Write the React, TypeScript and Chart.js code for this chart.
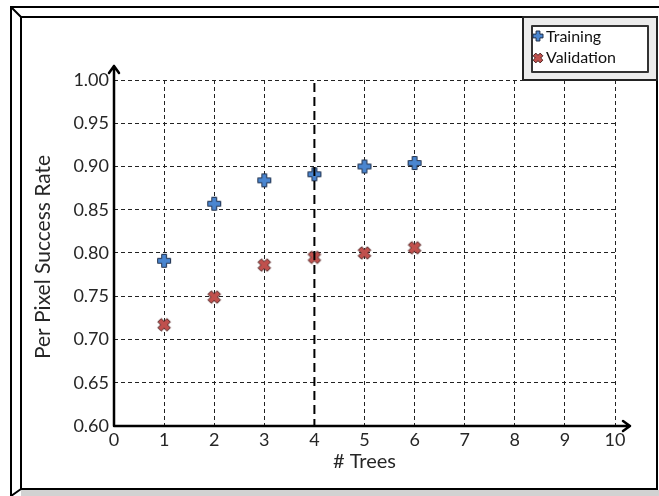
import React, { useEffect, useRef } from "react";
import { Chart, registerables } from "chart.js";

Chart.register(...registerables);

const treeCounts = [1, 2, 3, 4, 5, 6];
const trainingRate = [0.791, 0.857, 0.884, 0.891, 0.9, 0.904];
const validationRate = [0.717, 0.749, 0.786, 0.795, 0.8, 0.806];
const xTickValues = [0, 1, 2, 3, 4, 5, 6, 7, 8, 9, 10];
const yTickLabels = ["0.60", "0.65", "0.70", "0.75", "0.80", "0.85", "0.90", "0.95", "1.00"];
const chosenTrees = 4;
const seriesNames = ["Training", "Validation"];

const FONT = "Lato, 'Open Sans', sans-serif";

function makeMarker(kind: "plus" | "cross", fill: string, stroke: string, size: number, L: number, t: number) {
  const c = document.createElement("canvas");
  c.width = size;
  c.height = size;
  const ctx = c.getContext("2d")!;
  const m = size / 2;
  const pts = [
    [-t, -L], [t, -L], [t, -t], [L, -t], [L, t], [t, t],
    [t, L], [-t, L], [-t, t], [-L, t], [-L, -t], [-t, -t],
  ];
  const ang = kind === "cross" ? Math.PI / 4 : 0;
  ctx.beginPath();
  pts.forEach(([x, y], i) => {
    const rx = x * Math.cos(ang) - y * Math.sin(ang) + m;
    const ry = x * Math.sin(ang) + y * Math.cos(ang) + m;
    if (i === 0) ctx.moveTo(rx, ry);
    else ctx.lineTo(rx, ry);
  });
  ctx.closePath();
  ctx.fillStyle = fill;
  ctx.fill();
  ctx.lineWidth = 1;
  ctx.strokeStyle = stroke;
  ctx.stroke();
  return c;
}

export default function App() {
  const ref = useRef<HTMLCanvasElement | null>(null);

  useEffect(() => {
    const canvas = ref.current!;
    const plusImg = makeMarker("plus", "#4a86d0", "#1f2f4a", 16, 6.5, 2.4);
    const crossImg = makeMarker("cross", "#c0504d", "#4a2020", 16, 6.5, 2.4);
    const plusSmall = makeMarker("plus", "#4a86d0", "#1f2f4a", 12, 5, 1.9);
    const crossSmall = makeMarker("cross", "#c0504d", "#4a2020", 12, 5, 1.9);

    const framePlugin = {
      id: "frame",
      beforeDraw(chart: any) {
        const ctx = chart.ctx;
        ctx.save();
        ctx.fillStyle = "#ffffff";
        ctx.fillRect(0, 0, chart.width, chart.height);
        ctx.fillStyle = "#d2d2d2";
        ctx.fillRect(21, 490, chart.width - 21, 6);
        ctx.strokeStyle = "#000";
        ctx.lineWidth = 2;
        ctx.beginPath();
        ctx.moveTo(659, 7);
        ctx.lineTo(11, 7);
        ctx.lineTo(11, 496);
        ctx.stroke();
        ctx.beginPath();
        ctx.rect(21, 17, 636, 472);
        ctx.stroke();
        ctx.beginPath();
        ctx.moveTo(11, 7);
        ctx.lineTo(21, 17);
        ctx.moveTo(11, 496);
        ctx.lineTo(21, 489);
        ctx.stroke();
        ctx.restore();
      },
      afterDraw(chart: any) {
        const ctx = chart.ctx;
        const a = chart.chartArea;
        const xs = chart.scales.x;
        ctx.save();
        const x4 = xs.getPixelForValue(chosenTrees);
        ctx.strokeStyle = "#000";
        ctx.lineWidth = 2;
        ctx.setLineDash([9, 5]);
        ctx.beginPath();
        ctx.moveTo(x4, a.top + 3);
        ctx.lineTo(x4, a.bottom);
        ctx.stroke();
        ctx.setLineDash([]);
        ctx.lineWidth = 2.5;
        ctx.lineCap = "round";
        ctx.lineJoin = "round";
        ctx.beginPath();
        ctx.moveTo(a.left, a.bottom);
        ctx.lineTo(a.left, a.top - 14);
        ctx.moveTo(a.left - 5, a.top - 7);
        ctx.lineTo(a.left, a.top - 14);
        ctx.lineTo(a.left + 5, a.top - 7);
        ctx.moveTo(a.left, a.bottom);
        ctx.lineTo(a.right + 15, a.bottom);
        ctx.moveTo(a.right + 8, a.bottom - 5);
        ctx.lineTo(a.right + 15, a.bottom);
        ctx.lineTo(a.right + 8, a.bottom + 5);
        ctx.stroke();
        ctx.fillStyle = "#262626";
        ctx.font = `20px ${FONT}`;
        ctx.textAlign = "center";
        ctx.textBaseline = "middle";
        ctx.fillText("# Trees", (a.left + a.right) / 2, 462);
        ctx.save();
        ctx.translate(43, (a.top + a.bottom) / 2 + 4);
        ctx.rotate(-Math.PI / 2);
        ctx.font = `21px ${FONT}`;
        ctx.fillText("Per Pixel Success Rate", 0, 0);
        ctx.restore();
        // legend
        ctx.fillStyle = "#ececec";
        ctx.fillRect(523, 17, 134, 63);
        ctx.strokeStyle = "#222";
        ctx.lineWidth = 2;
        ctx.strokeRect(523, 17, 134, 63);
        ctx.fillStyle = "#fff";
        ctx.fillRect(532, 26, 116, 46);
        ctx.strokeStyle = "#333";
        ctx.strokeRect(532, 26, 116, 46);
        ctx.drawImage(plusSmall, 532, 30);
        ctx.drawImage(crossSmall, 532, 52);
        ctx.fillStyle = "#111";
        ctx.font = `16px ${FONT}`;
        ctx.textAlign = "left";
        ctx.fillText(seriesNames[0], 546, 37);
        ctx.fillText(seriesNames[1], 546, 58);
        ctx.restore();
      },
    };

    const chart = new Chart(canvas, {
      type: "scatter",
      data: {
        datasets: [
          {
            label: seriesNames[0],
            data: treeCounts.map((x, i) => ({ x, y: trainingRate[i] })),
            pointStyle: plusImg as any,
            pointRadius: 8,
            showLine: false,
          },
          {
            label: seriesNames[1],
            data: treeCounts.map((x, i) => ({ x, y: validationRate[i] })),
            pointStyle: crossImg as any,
            pointRadius: 8,
            showLine: false,
          },
        ],
      },
      options: {
        animation: false,
        responsive: false,
        layout: { padding: { left: 20, right: 44, top: 80, bottom: 0 } },
        plugins: { legend: { display: false }, tooltip: { enabled: false } },
        scales: {
          x: {
            type: "linear",
            min: 0,
            max: 10,
            afterFit: (s: any) => {
              s.height = 70;
            },
            afterBuildTicks: (s: any) => {
              s.ticks = xTickValues.map((v) => ({ value: v }));
            },
            ticks: {
              font: { family: FONT, size: 18 },
              color: "#262626",
              padding: 3,
              maxRotation: 0,
              autoSkip: false,
            },
            grid: {
              drawTicks: false,
              tickLength: 0,
              lineWidth: 1,
              color: (c: any) =>
                c.tick && (c.tick.value === 0 || c.tick.value === chosenTrees) ? "rgba(0,0,0,0)" : "#222",
            },
            border: { display: false, dash: [4, 3] },
          },
          y: {
            type: "linear",
            min: 0.6,
            max: 1.0,
            afterFit: (s: any) => {
              s.width = 94;
            },
            afterBuildTicks: (s: any) => {
              s.ticks = yTickLabels.map((l) => ({ value: parseFloat(l) }));
            },
            ticks: {
              font: { family: FONT, size: 18 },
              color: "#262626",
              padding: 5,
              autoSkip: false,
              callback: (v: any) => Number(v).toFixed(2),
            },
            grid: {
              drawTicks: false,
              tickLength: 0,
              lineWidth: 1,
              color: (c: any) =>
                c.tick && Math.abs(c.tick.value - 0.6) < 1e-9 ? "rgba(0,0,0,0)" : "#222",
            },
            border: { display: false, dash: [4, 3] },
          },
        },
      },
      plugins: [framePlugin],
    } as any);

    return () => chart.destroy();
  }, []);

  return (
    <div style={{ position: "fixed", left: 0, top: 0, width: 659, height: 496 }}>
      <canvas ref={ref} width={659} height={496} style={{ display: "block" }} />
    </div>
  );
}
